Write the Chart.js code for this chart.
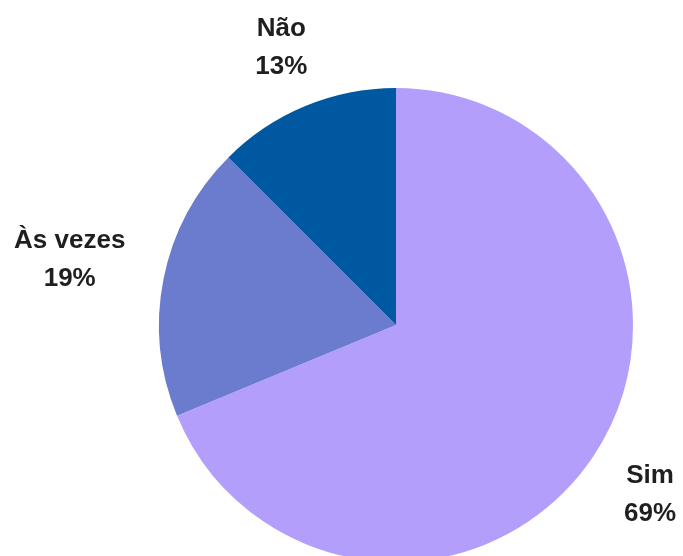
<!DOCTYPE html>
<html>
<head>
<meta charset="utf-8">
<script src="https://cdn.jsdelivr.net/npm/chart.js@4/dist/chart.umd.min.js"></script>
<style>
  html, body { margin: 0; padding: 0; background: #ffffff; overflow: hidden; }
  #wrap { width: 683px; height: 570px; }
</style>
</head>
<body>
<div id="wrap"><canvas id="c" width="683" height="570"></canvas></div>
<script>
const categories = ["Sim", "Às vezes", "Não"];
const counts = [11, 3, 2];
const percentLabels = ["69%", "19%", "13%"];
const colors = ["#b49efc", "#6b7bcd", "#0059a0"];

const labelPlugin = {
  id: "outsideLabels",
  afterDatasetsDraw(chart) {
    const ctx = chart.ctx;
    const meta = chart.getDatasetMeta(0);
    ctx.save();
    ctx.font = "bold 26px 'Liberation Sans', Arial, sans-serif";
    ctx.fillStyle = "#1f1f1f";
    ctx.textAlign = "center";
    ctx.textBaseline = "middle";
    const lineGap = 19;
    const halfH = 16;
    const gap = 38;
    meta.data.forEach((arc, i) => {
      const a = (arc.startAngle + arc.endAngle) / 2;
      const dx = Math.cos(a), dy = Math.sin(a);
      const lines = [categories[i], percentLabels[i]];
      const w = Math.max(...lines.map(t => ctx.measureText(t).width));
      const dist = arc.outerRadius + gap + (w / 2) * Math.abs(dx) + halfH * Math.abs(dy);
      const cx = arc.x + dx * dist;
      const cy = arc.y + dy * dist;
      ctx.fillText(lines[0], cx, cy - lineGap);
      ctx.fillText(lines[1], cx, cy + lineGap);
    });
    ctx.restore();
  }
};

new Chart(document.getElementById("c"), {
  type: "pie",
  data: {
    labels: categories,
    datasets: [{
      data: counts,
      backgroundColor: colors,
      borderWidth: 0,
      hoverOffset: 0
    }]
  },
  options: {
    responsive: false,
    animation: false,
    layout: { padding: { left: 159, right: 50, top: 88, bottom: 8 } },
    plugins: {
      legend: { display: false },
      tooltip: { enabled: false }
    }
  },
  plugins: [labelPlugin]
});
</script>
</body>
</html>
